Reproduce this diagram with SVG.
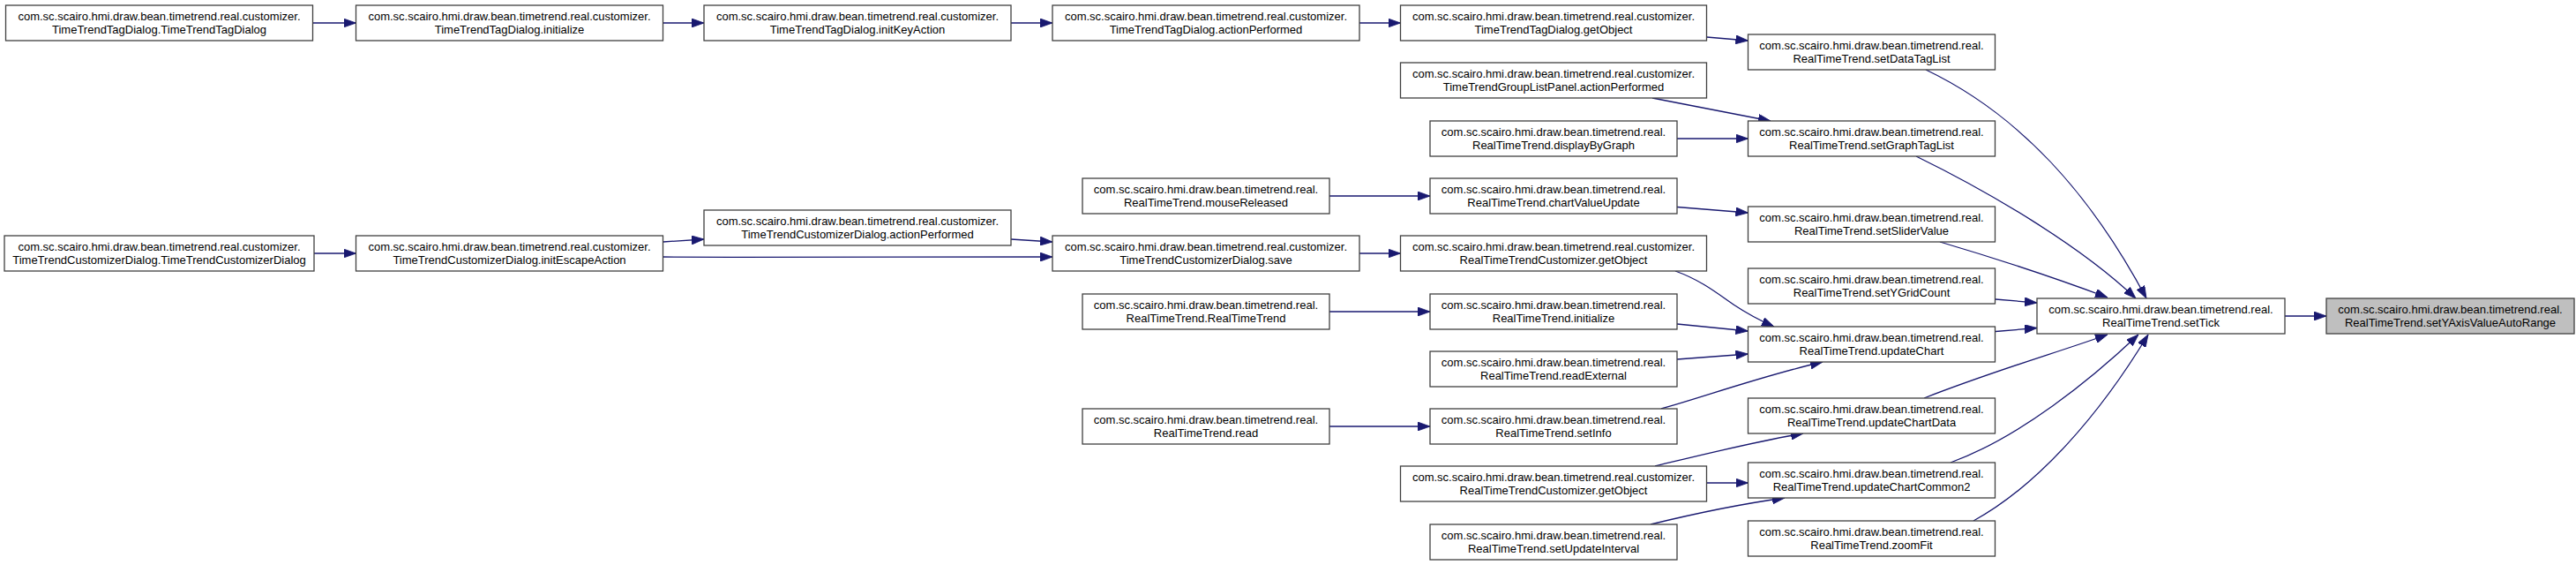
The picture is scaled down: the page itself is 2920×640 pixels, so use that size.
<svg xmlns="http://www.w3.org/2000/svg" width="2920" height="640" viewBox="0 0 2920 640">
<style>
.n rect{fill:#ffffff;stroke:#404040;stroke-width:1.3}
.hl rect{fill:#bfbfbf}
.n text{font-family:"Liberation Sans",Arial,sans-serif;font-size:13px;fill:#000000;text-anchor:middle}
.e path{fill:none;stroke:#191970;stroke-width:1.3}
</style>
<defs>
<marker id="ar" markerUnits="userSpaceOnUse" viewBox="0 0 14 10" refX="14" refY="5" markerWidth="14" markerHeight="10" orient="auto">
<path d="M0,0 L14,5 L0,10 z" fill="#191970" stroke="#191970" stroke-width="0.8"/>
</marker>
</defs>
<rect width="2920" height="640" fill="#ffffff"/>
<g class="e" marker-end="url(#ar)">
<path d="M354.5,26 L403.5,26"/>
<path d="M751.5,26 L798,26"/>
<path d="M1146,26 L1193,26"/>
<path d="M1541,26 L1587.5,26"/>
<path d="M1934.5,42 L1981.5,46"/>
<path d="M1873,111 L2007,137"/>
<path d="M1901,157 L1981.5,157"/>
<path d="M1507,222 L1621,222"/>
<path d="M1901,234.5 L1981.5,241"/>
<path d="M356,287 L403.5,287"/>
<path d="M751.5,274 L798,271"/>
<path d="M751.5,291 C900,292 1050,292 1193,291"/>
<path d="M1146,271 L1193,274"/>
<path d="M1541,287 L1587.5,287"/>
<path d="M1899,307 C1930,318 1950,335 1965,345 S1995,363 2011,370"/>
<path d="M1507,353 L1621,353"/>
<path d="M1901,367 L1981.5,375"/>
<path d="M1901,407 L1981.5,401"/>
<path d="M1883,463 C1930,450 2000,425 2066,410"/>
<path d="M1507,483 L1621,483"/>
<path d="M1876,528 C1930,515 1990,500 2044,491"/>
<path d="M1935,547 L1981.5,547"/>
<path d="M1871,594 C1920,582 1980,570 2023,564"/>
<path d="M2183,79 C2290,130 2370,220 2433,338"/>
<path d="M2172,177 C2260,220 2360,280 2421,338"/>
<path d="M2199,274 C2260,292 2330,315 2389,337"/>
<path d="M2262,339 L2309,343"/>
<path d="M2262,375.5 L2309,371.5"/>
<path d="M2181,451 C2260,420 2330,400 2389,379"/>
<path d="M2211,524 C2290,495 2370,430 2424,379"/>
<path d="M2237,590 C2310,550 2380,470 2435,379"/>
<path d="M2590,358 L2637,358"/>
</g>
<g id="n1" class="n"><rect x="6.5" y="6" width="348" height="40"/><text x="180.5" y="23">com.sc.scairo.hmi.draw.bean.timetrend.real.customizer.</text><text x="180.5" y="38">TimeTrendTagDialog.TimeTrendTagDialog</text></g>
<g id="n2" class="n"><rect x="403.5" y="6" width="348" height="40"/><text x="577.5" y="23">com.sc.scairo.hmi.draw.bean.timetrend.real.customizer.</text><text x="577.5" y="38">TimeTrendTagDialog.initialize</text></g>
<g id="n3" class="n"><rect x="798" y="6" width="348" height="40"/><text x="972" y="23">com.sc.scairo.hmi.draw.bean.timetrend.real.customizer.</text><text x="972" y="38">TimeTrendTagDialog.initKeyAction</text></g>
<g id="n4" class="n"><rect x="1193" y="6" width="348" height="40"/><text x="1367" y="23">com.sc.scairo.hmi.draw.bean.timetrend.real.customizer.</text><text x="1367" y="38">TimeTrendTagDialog.actionPerformed</text></g>
<g id="n5" class="n"><rect x="1587.5" y="6" width="347" height="40"/><text x="1761" y="23">com.sc.scairo.hmi.draw.bean.timetrend.real.customizer.</text><text x="1761" y="38">TimeTrendTagDialog.getObject</text></g>
<g id="n6" class="n"><rect x="1981.5" y="39" width="280" height="40"/><text x="2121.5" y="56">com.sc.scairo.hmi.draw.bean.timetrend.real.</text><text x="2121.5" y="71">RealTimeTrend.setDataTagList</text></g>
<g id="n7" class="n"><rect x="1587.5" y="71" width="347" height="40"/><text x="1761" y="88">com.sc.scairo.hmi.draw.bean.timetrend.real.customizer.</text><text x="1761" y="103">TimeTrendGroupListPanel.actionPerformed</text></g>
<g id="n8" class="n"><rect x="1621" y="137" width="280" height="40"/><text x="1761" y="154">com.sc.scairo.hmi.draw.bean.timetrend.real.</text><text x="1761" y="169">RealTimeTrend.displayByGraph</text></g>
<g id="n9" class="n"><rect x="1981.5" y="137" width="280" height="40"/><text x="2121.5" y="154">com.sc.scairo.hmi.draw.bean.timetrend.real.</text><text x="2121.5" y="169">RealTimeTrend.setGraphTagList</text></g>
<g id="n10" class="n"><rect x="1227" y="202" width="280" height="40"/><text x="1367" y="219">com.sc.scairo.hmi.draw.bean.timetrend.real.</text><text x="1367" y="234">RealTimeTrend.mouseReleased</text></g>
<g id="n11" class="n"><rect x="1621" y="202" width="280" height="40"/><text x="1761" y="219">com.sc.scairo.hmi.draw.bean.timetrend.real.</text><text x="1761" y="234">RealTimeTrend.chartValueUpdate</text></g>
<g id="n12" class="n"><rect x="1981.5" y="234" width="280" height="40"/><text x="2121.5" y="251">com.sc.scairo.hmi.draw.bean.timetrend.real.</text><text x="2121.5" y="266">RealTimeTrend.setSliderValue</text></g>
<g id="n13" class="n"><rect x="798" y="238" width="348" height="40"/><text x="972" y="255">com.sc.scairo.hmi.draw.bean.timetrend.real.customizer.</text><text x="972" y="270">TimeTrendCustomizerDialog.actionPerformed</text></g>
<g id="n14" class="n"><rect x="5" y="267" width="351" height="40"/><text x="180.5" y="284">com.sc.scairo.hmi.draw.bean.timetrend.real.customizer.</text><text x="180.5" y="299">TimeTrendCustomizerDialog.TimeTrendCustomizerDialog</text></g>
<g id="n15" class="n"><rect x="403.5" y="267" width="348" height="40"/><text x="577.5" y="284">com.sc.scairo.hmi.draw.bean.timetrend.real.customizer.</text><text x="577.5" y="299">TimeTrendCustomizerDialog.initEscapeAction</text></g>
<g id="n16" class="n"><rect x="1193" y="267" width="348" height="40"/><text x="1367" y="284">com.sc.scairo.hmi.draw.bean.timetrend.real.customizer.</text><text x="1367" y="299">TimeTrendCustomizerDialog.save</text></g>
<g id="n17" class="n"><rect x="1587.5" y="267" width="347" height="40"/><text x="1761" y="284">com.sc.scairo.hmi.draw.bean.timetrend.real.customizer.</text><text x="1761" y="299">RealTimeTrendCustomizer.getObject</text></g>
<g id="n18" class="n"><rect x="1981.5" y="304" width="280" height="40"/><text x="2121.5" y="321">com.sc.scairo.hmi.draw.bean.timetrend.real.</text><text x="2121.5" y="336">RealTimeTrend.setYGridCount</text></g>
<g id="n19" class="n"><rect x="1227" y="333" width="280" height="40"/><text x="1367" y="350">com.sc.scairo.hmi.draw.bean.timetrend.real.</text><text x="1367" y="365">RealTimeTrend.RealTimeTrend</text></g>
<g id="n20" class="n"><rect x="1621" y="333" width="280" height="40"/><text x="1761" y="350">com.sc.scairo.hmi.draw.bean.timetrend.real.</text><text x="1761" y="365">RealTimeTrend.initialize</text></g>
<g id="n21" class="n"><rect x="2309" y="338" width="281" height="40"/><text x="2449.5" y="355">com.sc.scairo.hmi.draw.bean.timetrend.real.</text><text x="2449.5" y="370">RealTimeTrend.setTick</text></g>
<g id="n22" class="n hl"><rect x="2637" y="338" width="281" height="40"/><text x="2777.5" y="355">com.sc.scairo.hmi.draw.bean.timetrend.real.</text><text x="2777.5" y="370">RealTimeTrend.setYAxisValueAutoRange</text></g>
<g id="n23" class="n"><rect x="1981.5" y="370" width="280" height="40"/><text x="2121.5" y="387">com.sc.scairo.hmi.draw.bean.timetrend.real.</text><text x="2121.5" y="402">RealTimeTrend.updateChart</text></g>
<g id="n24" class="n"><rect x="1621" y="398" width="280" height="40"/><text x="1761" y="415">com.sc.scairo.hmi.draw.bean.timetrend.real.</text><text x="1761" y="430">RealTimeTrend.readExternal</text></g>
<g id="n25" class="n"><rect x="1981.5" y="451" width="280" height="40"/><text x="2121.5" y="468">com.sc.scairo.hmi.draw.bean.timetrend.real.</text><text x="2121.5" y="483">RealTimeTrend.updateChartData</text></g>
<g id="n26" class="n"><rect x="1227" y="463" width="280" height="40"/><text x="1367" y="480">com.sc.scairo.hmi.draw.bean.timetrend.real.</text><text x="1367" y="495">RealTimeTrend.read</text></g>
<g id="n27" class="n"><rect x="1621" y="463" width="280" height="40"/><text x="1761" y="480">com.sc.scairo.hmi.draw.bean.timetrend.real.</text><text x="1761" y="495">RealTimeTrend.setInfo</text></g>
<g id="n28" class="n"><rect x="1981.5" y="524" width="280" height="40"/><text x="2121.5" y="541">com.sc.scairo.hmi.draw.bean.timetrend.real.</text><text x="2121.5" y="556">RealTimeTrend.updateChartCommon2</text></g>
<g id="n29" class="n"><rect x="1587.5" y="528" width="347" height="40"/><text x="1761" y="545">com.sc.scairo.hmi.draw.bean.timetrend.real.customizer.</text><text x="1761" y="560">RealTimeTrendCustomizer.getObject</text></g>
<g id="n30" class="n"><rect x="1981.5" y="590" width="280" height="40"/><text x="2121.5" y="607">com.sc.scairo.hmi.draw.bean.timetrend.real.</text><text x="2121.5" y="622">RealTimeTrend.zoomFit</text></g>
<g id="n31" class="n"><rect x="1621" y="594" width="280" height="40"/><text x="1761" y="611">com.sc.scairo.hmi.draw.bean.timetrend.real.</text><text x="1761" y="626">RealTimeTrend.setUpdateInterval</text></g>
</svg>
